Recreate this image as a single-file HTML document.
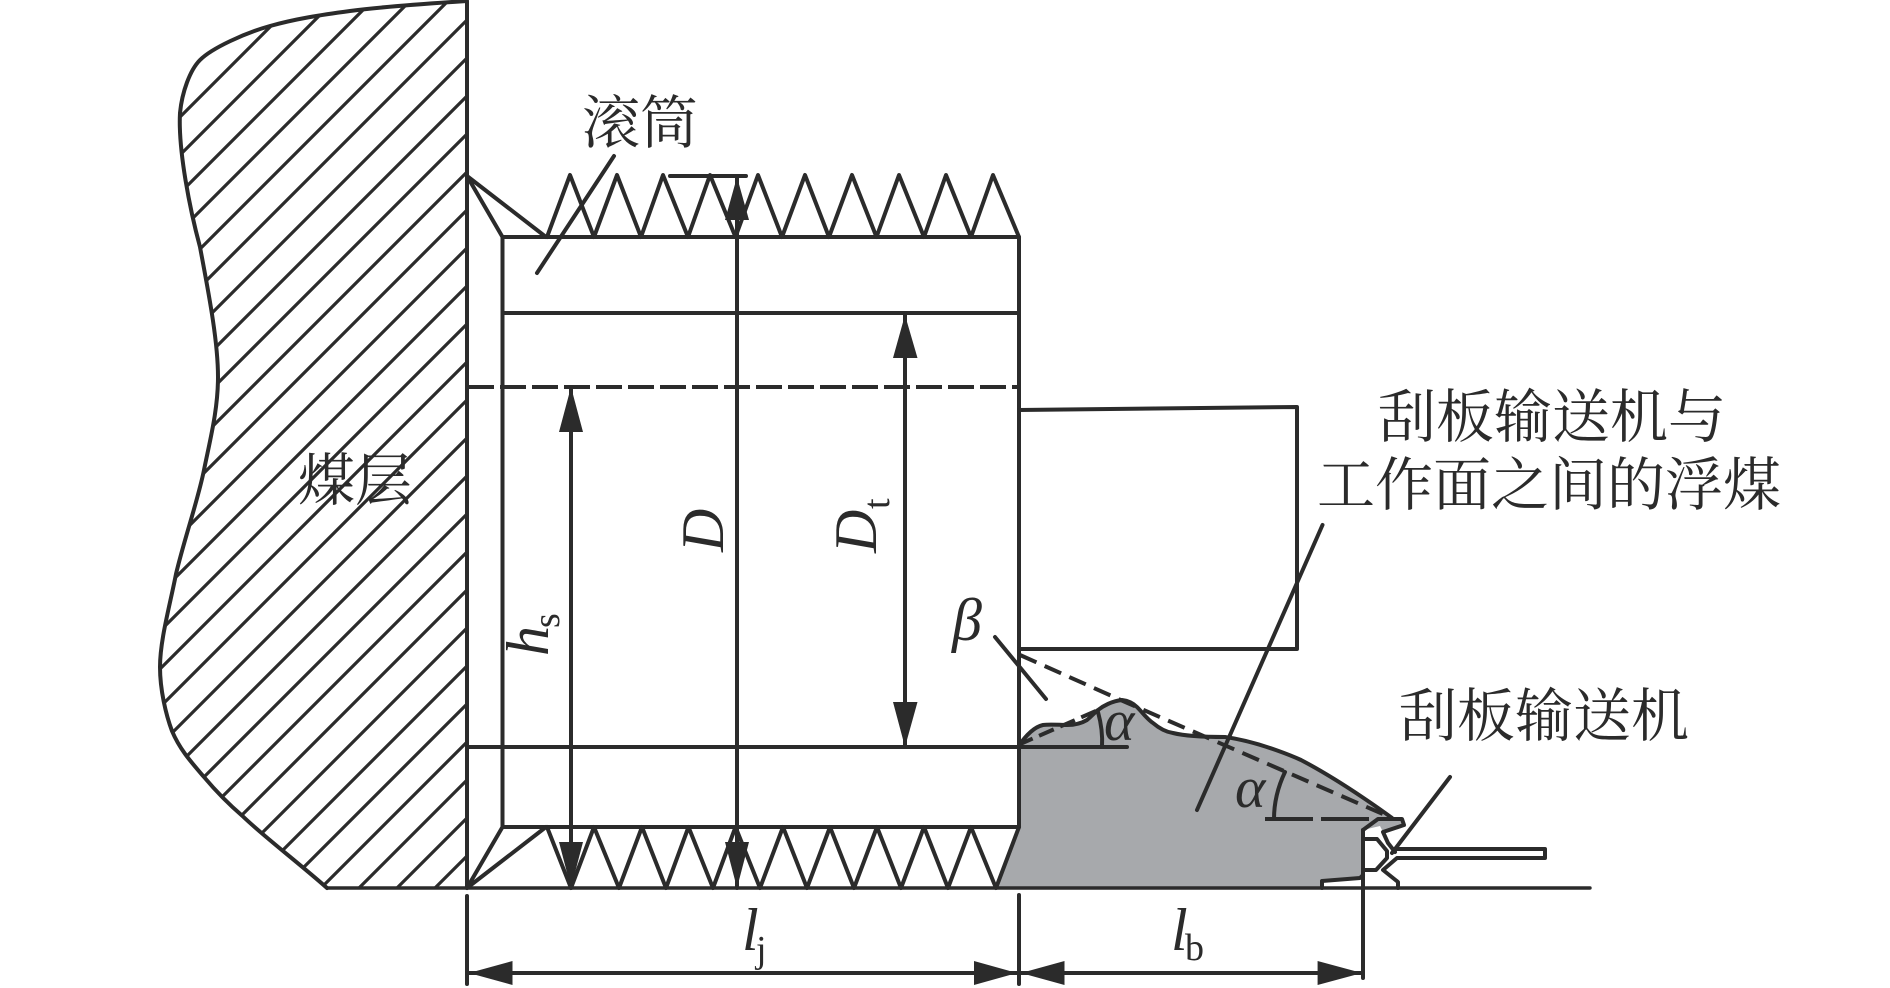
<!DOCTYPE html>
<html lang="zh">
<head>
<meta charset="utf-8">
<title>滚筒与刮板输送机示意图</title>
<style>
html,body{margin:0;padding:0;background:#fff;width:1890px;height:988px;overflow:hidden}
svg{display:block}
.c{font-family:"Liberation Serif","Noto Serif CJK SC",serif;font-size:58px;fill:#2b2b2b}
.m{font-family:"Liberation Serif",serif;font-style:italic;font-size:60px;fill:#2b2b2b}
.s{font-family:"Liberation Serif",serif;font-size:38px;fill:#2b2b2b}
</style>
</head>
<body>
<svg width="1890" height="988" viewBox="0 0 1890 988" xmlns="http://www.w3.org/2000/svg">
<defs>
<clipPath id="coal"><path d="M467 1C420 4 380 7 350 11C320 15 295 19 270 26C245 33 212 48 200 60C190 70 182 92 180 113C178 150 190 210 200 247C208 290 218 340 218 377C218 410 210 440 204 470C198 500 184 540 176 574C170 605 160 640 160 667C160 690 166 715 172 731C180 750 192 763 204 777C220 796 232 807 242.5 816C262 835 300 864 327 888H467Z"/></clipPath>
</defs>
<rect width="1890" height="988" fill="#fff"/>

<!-- 浮煤 -->
<path d="M1018 747C1026 735 1034 727 1043 725C1050 724 1060 725 1067 725C1075 725 1082 723 1087 720C1092 716 1094 713 1098 710C1103 706 1112 701 1122 700C1130 701 1134 704 1137 707C1143 713 1147 719 1153 723C1160 729 1166 732 1173 733C1185 736 1200 737 1225 737C1262 742 1301 760 1301 760C1345 783 1392 818 1392 818L1402 819 1404 825 1383 832 1380 826 1363 830V877L1360 878 1322 881V888H996L1019 827Z" fill="#a7a9ac"/>

<!-- 煤层剖面线 -->
<g clip-path="url(#coal)" stroke="#2b2b2b" stroke-width="3.2" fill="none">
<path d="M467 -170l-500 500M467 -132l-500 500M467 -94l-500 500M467 -56l-500 500M467 -18l-500 500M467 20l-500 500M467 58l-500 500M467 96l-500 500M467 134l-500 500M467 172l-500 500M467 210l-500 500M467 248l-500 500M467 286l-500 500M467 324l-500 500M467 362l-500 500M467 400l-500 500M467 438l-500 500M467 476l-500 500M467 514l-500 500M467 552l-500 500M467 590l-500 500M467 628l-500 500M467 666l-500 500M467 704l-500 500M467 742l-500 500M467 780l-500 500M467 818l-500 500M467 856l-500 500"/>
</g>

<g fill="none" stroke="#2b2b2b" stroke-width="4" stroke-linejoin="round" stroke-linecap="round">
<!-- 煤层轮廓 -->
<path d="M467 1C420 4 380 7 350 11C320 15 295 19 270 26C245 33 212 48 200 60C190 70 182 92 180 113C178 150 190 210 200 247C208 290 218 340 218 377C218 410 210 440 204 470C198 500 184 540 176 574C170 605 160 640 160 667C160 690 166 715 172 731C180 750 192 763 204 777C220 796 232 807 242.5 816C262 835 300 864 327 888"/>
<path d="M467 2V888"/>
<path d="M327 888H1590" stroke-width="3.4"/>

<!-- 滚筒 -->
<path d="M502.5 237H1019V827H502.5V237M502.5 313H1019M468 747H1127"/>
<path d="M467 176L502.5 237M467 176L546 237"/>
<path d="M547 237L570 175 594 237 617 175 641 237 663 175 688 237 710 175 735.5 237 758 175 782 237 805 175 829 237 852 175 876.5 237 899 175 924 237 946 175 971 237 993 175 1019 237"/>
<path d="M467 888L502.5 827M467 888L546 827"/>
<path d="M547 827L571 888 594 827 619 888 642 827 666 888 688.5 827 713 888 735.5 827 760 888 783 827 807 888 830 827 854 888 877 827 901 888 924 827 948 888 971 827 996 888 1019 827"/>
<path d="M468 387H1019" stroke-dasharray="26 6" stroke-linecap="butt"/>

<!-- 右侧箱体 -->
<path d="M1019 410L1297 407V649L1019 649"/>

<!-- 尺寸线 -->
<path d="M571 387V888M737 176V888M670 176H746M905 315V747"/>
<path d="M467 896V984M1019 895V984M1363 830V978M469 973H1362"/>

<!-- 引线 -->
<path d="M614 156L537 273"/>
<path d="M995 637L1046 699"/>
<path d="M1322.5 525L1197 810"/>
<path d="M1450 777L1392 853"/>

<!-- 角度 -->
<path d="M1098 712Q1103 730 1102 747"/>
<path d="M1285 772Q1274 795 1274 819"/>

<!-- 虚线 -->
<path d="M1020 655L1123 701 1392 818" stroke-dasharray="18 9" stroke-linecap="butt"/>
<path d="M1018 745L1098 710" stroke-dasharray="16 7" stroke-linecap="butt"/>
<path d="M1265 819H1377" stroke-dasharray="48 8" stroke-linecap="butt"/>

<!-- 输送机 -->
<path d="M1363 830L1378 819H1402L1404 825 1383 832 1388 843 1395 852"/>
<path d="M1395 849H1545V858H1397L1383 870 1398 882V888"/>
<path d="M1363 839H1377L1387 851V858L1376 870H1363"/>
<path d="M1363 875L1360 878 1322 881V888"/>

<!-- 煤堆外轮廓 -->
<path d="M1018 747C1026 735 1034 727 1043 725C1050 724 1060 725 1067 725C1075 725 1082 723 1087 720C1092 716 1094 713 1098 710C1103 706 1112 701 1122 700C1130 701 1134 704 1137 707C1143 713 1147 719 1153 723C1160 729 1166 732 1173 733C1185 736 1200 737 1225 737C1262 742 1301 760 1301 760C1345 783 1392 818 1392 818"/>
</g>

<!-- 箭头 -->
<g fill="#2b2b2b">
<path d="M571 387L559 432H583Z"/>
<path d="M571 888L559 842H583Z"/>
<path d="M737 177L725 220H749Z"/>
<path d="M737 888L725 842H749Z"/>
<path d="M905 315L893 358H917.5Z"/>
<path d="M905 747L893 702H917.5Z"/>
<path d="M469 973L512.5 961V985Z"/>
<path d="M1017 973L974 961V985Z"/>
<path d="M1021 973L1064.5 961V985Z"/>
<path d="M1362 973L1317.6 961V985Z"/>
</g>

<!-- 中文标注 -->
<text class="c" x="582" y="143">滚筒</text>
<text class="c" x="298" y="500" style="font-size:57px">煤层</text>
<text class="c" x="1378" y="437">刮板输送机与</text>
<text class="c" x="1317" y="505">工作面之间的浮煤</text>
<text class="c" x="1399" y="736">刮板输送机</text>

<!-- 符号标注 -->
<text class="m" transform="translate(723,552) rotate(-90)">D</text>
<text class="m" transform="translate(876,553) rotate(-90)">D</text>
<text class="s" transform="translate(889,509) rotate(-90)">t</text>
<text class="m" transform="translate(548,656) rotate(-90)">h</text>
<text class="s" transform="translate(559,628) rotate(-90)">s</text>
<text class="m" x="742" y="950">l</text>
<text class="s" x="756" y="962">j</text>
<text class="m" x="1171" y="950">l</text>
<text class="s" x="1185" y="960">b</text>
<text class="m" x="952" y="640">β</text>
<text class="m" x="1104" y="740" style="font-size:58px">α</text>
<text class="m" x="1235" y="807" style="font-size:58px">α</text>
</svg>
</body>
</html>
